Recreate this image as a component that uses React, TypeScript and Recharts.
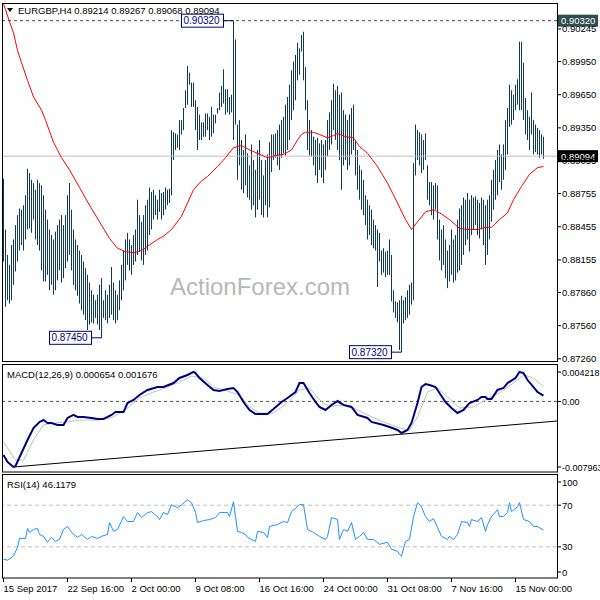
import React from 'react';
import { ComposedChart, Bar, Line, XAxis, YAxis, ReferenceLine, ReferenceDot } from 'recharts';

// EURGBP H4 bars, index 0 = first bar on screen (15 Sep 2017)
const highs = [
  0.8889, 0.8843, 0.8820, 0.8811, 0.8829, 0.8834, 0.8847, 0.8856, 0.8862, 0.8861,
  0.8865, 0.8874, 0.8898, 0.8894, 0.8888, 0.8885, 0.8879, 0.8888, 0.8885, 0.8883,
  0.8874, 0.8861, 0.8852, 0.8843, 0.8838, 0.8834, 0.8841, 0.8847, 0.8852, 0.8856,
  0.8847, 0.8856, 0.8874, 0.8885, 0.8861, 0.8843, 0.8834, 0.8829, 0.8824, 0.8820,
  0.8814, 0.8808, 0.8802, 0.8795, 0.8788, 0.8784, 0.8779, 0.8784, 0.8793, 0.8799,
  0.8779, 0.8788, 0.8784, 0.8793, 0.8809, 0.8795, 0.8788, 0.8784, 0.8797, 0.8811,
  0.8824, 0.8834, 0.8840, 0.8834, 0.8829, 0.8838, 0.8843, 0.8870, 0.8856, 0.8850,
  0.8856, 0.8865, 0.8870, 0.8881, 0.8877, 0.8879, 0.8874, 0.8870, 0.8879, 0.8876,
  0.8877, 0.8881, 0.8879, 0.8880, 0.8933, 0.8931, 0.8930, 0.8929, 0.8942, 0.8942,
  0.8953, 0.8969, 0.8991, 0.8985, 0.8976, 0.8976, 0.8960, 0.8954, 0.8947, 0.8940,
  0.8940, 0.8948, 0.8948, 0.8945, 0.8954, 0.8947, 0.8947, 0.8953, 0.8967, 0.8973,
  0.8988, 0.8970, 0.8970, 0.8963, 0.8965, 0.9032, 0.9015, 0.8938, 0.8942, 0.8924,
  0.8915, 0.8929, 0.8912, 0.8901, 0.8920, 0.8906, 0.8897, 0.8915, 0.8924, 0.8906,
  0.8892, 0.8906, 0.8911, 0.8922, 0.8929, 0.8929, 0.8930, 0.8933, 0.8938, 0.8942,
  0.8945, 0.8956, 0.8963, 0.8974, 0.8987, 0.8995, 0.9001, 0.9012, 0.9007, 0.9019,
  0.9022, 0.8990, 0.8960, 0.8942, 0.8933, 0.8927, 0.8924, 0.8926, 0.8921, 0.8924,
  0.8920, 0.8924, 0.8942, 0.8949, 0.8960, 0.8975, 0.8969, 0.8973, 0.8965, 0.8967,
  0.8951, 0.8947, 0.8942, 0.8947, 0.8953, 0.8956, 0.8924, 0.8915, 0.8901, 0.8897,
  0.8888, 0.8874, 0.8870, 0.8865, 0.8861, 0.8852, 0.8847, 0.8843, 0.8840, 0.8824,
  0.8826, 0.8823, 0.8824, 0.8834, 0.8820, 0.8788, 0.8778, 0.8777, 0.8779, 0.8783,
  0.8779, 0.8782, 0.8788, 0.8793, 0.8795, 0.8903, 0.8938, 0.8933, 0.8931, 0.8929,
  0.8924, 0.8930, 0.8901, 0.8886, 0.8886, 0.8883, 0.8885, 0.8883, 0.8852, 0.8843,
  0.8847, 0.8834, 0.8824, 0.8829, 0.8843, 0.8834, 0.8838, 0.8852, 0.8862, 0.8865,
  0.8872, 0.8870, 0.8876, 0.8870, 0.8874, 0.8872, 0.8873, 0.8870, 0.8867, 0.8872,
  0.8870, 0.8865, 0.8870, 0.8874, 0.8888, 0.8897, 0.8906, 0.8915, 0.8920, 0.8911,
  0.8920, 0.8942, 0.8953, 0.8974, 0.8969, 0.8965, 0.8974, 0.8979, 0.9013, 0.9013,
  0.8994, 0.8962, 0.8951, 0.8945, 0.8967, 0.8942, 0.8938, 0.8935, 0.8933, 0.8929, 0.8927,
];
const lows = [
  0.8814, 0.8773, 0.8779, 0.8776, 0.8779, 0.8793, 0.8805, 0.8814, 0.8824, 0.8829,
  0.8824, 0.8834, 0.8843, 0.8844, 0.8840, 0.8852, 0.8834, 0.8829, 0.8824, 0.8806,
  0.8796, 0.8796, 0.8802, 0.8788, 0.8793, 0.8784, 0.8788, 0.8797, 0.8806, 0.8795,
  0.8799, 0.8808, 0.8814, 0.8820, 0.8806, 0.8793, 0.8788, 0.8783, 0.8776, 0.8770,
  0.8766, 0.8761, 0.8752, 0.8757, 0.8759, 0.8758, 0.8763, 0.8757, 0.8752, 0.8745,
  0.8763, 0.8761, 0.8758, 0.8763, 0.8766, 0.8761, 0.8758, 0.8761, 0.8770, 0.8779,
  0.8788, 0.8797, 0.8811, 0.8806, 0.8802, 0.8811, 0.8814, 0.8820, 0.8823, 0.8815,
  0.8811, 0.8820, 0.8824, 0.8838, 0.8843, 0.8852, 0.8856, 0.8852, 0.8859, 0.8852,
  0.8856, 0.8861, 0.8865, 0.8867, 0.8874, 0.8906, 0.8915, 0.8917, 0.8915, 0.8929,
  0.8933, 0.8953, 0.8956, 0.8974, 0.8954, 0.8954, 0.8933, 0.8915, 0.8924, 0.8924,
  0.8927, 0.8927, 0.8933, 0.8924, 0.8927, 0.8930, 0.8939, 0.8948, 0.8951, 0.8954,
  0.8957, 0.8947, 0.8949, 0.8947, 0.8949, 0.8924, 0.8938, 0.8888, 0.8901, 0.8879,
  0.8876, 0.8883, 0.8872, 0.8870, 0.8861, 0.8865, 0.8854, 0.8861, 0.8870, 0.8856,
  0.8854, 0.8865, 0.8854, 0.8863, 0.8895, 0.8906, 0.8908, 0.8901, 0.8897, 0.8908,
  0.8912, 0.8910, 0.8915, 0.8924, 0.8942, 0.8951, 0.8960, 0.8978, 0.8983, 0.9004,
  0.8978, 0.8951, 0.8915, 0.8910, 0.8909, 0.8901, 0.8892, 0.8885, 0.8897, 0.8890,
  0.8885, 0.8897, 0.8909, 0.8915, 0.8920, 0.8933, 0.8924, 0.8915, 0.8906, 0.8879,
  0.8901, 0.8906, 0.8897, 0.8901, 0.8911, 0.8915, 0.8892, 0.8879, 0.8870, 0.8861,
  0.8856, 0.8847, 0.8834, 0.8838, 0.8829, 0.8826, 0.8824, 0.8791, 0.8814, 0.8802,
  0.8804, 0.8800, 0.8802, 0.8802, 0.8778, 0.8768, 0.8763, 0.8759, 0.8734, 0.8732,
  0.8758, 0.8761, 0.8763, 0.8766, 0.8775, 0.8779, 0.8892, 0.8906, 0.8901, 0.8894,
  0.8897, 0.8906, 0.8870, 0.8865, 0.8856, 0.8852, 0.8861, 0.8834, 0.8815, 0.8806,
  0.8811, 0.8799, 0.8790, 0.8796, 0.8802, 0.8795, 0.8797, 0.8804, 0.8806, 0.8811,
  0.8820, 0.8829, 0.8834, 0.8823, 0.8838, 0.8843, 0.8847, 0.8838, 0.8835, 0.8843,
  0.8829, 0.8811, 0.8820, 0.8834, 0.8850, 0.8861, 0.8870, 0.8874, 0.8886, 0.8879,
  0.8888, 0.8897, 0.8911, 0.8936, 0.8938, 0.8942, 0.8951, 0.8956, 0.8951, 0.8951,
  0.8942, 0.8929, 0.8924, 0.8915, 0.8929, 0.8911, 0.8913, 0.8911, 0.8908, 0.8911, 0.8907,
];

// moving average (red), sampled along the curve
const maIdx = [0, 1, 3, 5, 7, 9, 12, 15, 19, 21, 25, 29, 33, 38, 43, 48, 53, 57, 61, 65, 69, 73, 77, 80, 84, 89, 95, 99, 102, 107, 111, 115, 119, 123, 127, 132, 136, 140, 144, 147, 149, 151, 155, 158, 162, 165, 167, 171, 175, 178, 182, 187, 192, 197, 201, 204, 207, 211, 215, 219, 223, 228, 232, 237, 241, 244, 248, 252, 255, 259, 263, 267, 270];
const maVal = [0.9047, 0.9042, 0.9031, 0.9021, 0.9005, 0.8994, 0.8978, 0.8963, 0.8951, 0.8942, 0.8922, 0.8908, 0.8897, 0.8881, 0.8865, 0.8850, 0.8835, 0.8826, 0.8823, 0.8822, 0.8824, 0.8829, 0.8834, 0.8837, 0.8843, 0.8855, 0.8879, 0.8887, 0.8891, 0.8900, 0.8908, 0.8917, 0.8919, 0.8915, 0.8912, 0.8908, 0.8910, 0.8911, 0.8915, 0.8924, 0.8929, 0.8931, 0.8931, 0.8929, 0.8926, 0.8928, 0.8930, 0.8927, 0.8926, 0.8918, 0.8912, 0.8900, 0.8885, 0.8867, 0.8852, 0.8843, 0.8850, 0.8859, 0.8861, 0.8857, 0.8852, 0.8844, 0.8843, 0.8843, 0.8845, 0.8845, 0.8852, 0.8858, 0.8870, 0.8882, 0.8893, 0.8899, 0.8900];

// MACD(12,26,9)
const macdIdx = [0, 2, 5, 6, 9, 12, 15, 18, 20, 22, 24, 27, 30, 32, 35, 37, 40, 44, 47, 50, 54, 56, 60, 62, 65, 68, 72, 77, 80, 85, 88, 92, 95, 96, 98, 102, 105, 108, 112, 115, 117, 120, 123, 126, 130, 132, 135, 139, 142, 146, 148, 150, 153, 156, 158, 161, 164, 167, 170, 174, 177, 182, 184, 190, 193, 197, 199, 202, 204, 207, 209, 211, 213, 216, 218, 221, 224, 227, 230, 233, 237, 239, 241, 242, 244, 247, 250, 252, 256, 258, 260, 262, 265, 267, 270];
const macdVal = [-0.00605, -0.00683, -0.00740, -0.00729, -0.00582, -0.00435, -0.00300, -0.00232, -0.00210, -0.00243, -0.00243, -0.00266, -0.00266, -0.00187, -0.00153, -0.00176, -0.00176, -0.00187, -0.00198, -0.00198, -0.00153, -0.00120, -0.00120, -0.00018, 0.00016, 0.00072, 0.00129, 0.00162, 0.00162, 0.00207, 0.00264, 0.00298, 0.00332, 0.00320, 0.00264, 0.00185, 0.00129, 0.00117, 0.00140, 0.00151, 0.00106, -0.00007, -0.00097, -0.00142, -0.00142, -0.00142, -0.00086, -0.00007, 0.00038, 0.00106, 0.00207, 0.00207, 0.00095, -0.00007, -0.00063, -0.00097, -0.00040, 0.00004, -0.00040, -0.00063, -0.00153, -0.00187, -0.00232, -0.00266, -0.00289, -0.00322, -0.00356, -0.00322, -0.00243, -0.00018, 0.00162, 0.00196, 0.00185, 0.00162, 0.00095, -0.00007, -0.00074, -0.00131, -0.00097, -0.00018, 0.00016, 0.00050, 0.00050, 0.00027, 0.00027, 0.00129, 0.00151, 0.00207, 0.00264, 0.00332, 0.00320, 0.00241, 0.00162, 0.00106, 0.00065];
const sigIdx = [0, 6, 10, 15, 20, 26, 32, 38, 48, 55, 62, 68, 75, 82, 88, 94, 100, 105, 112, 118, 123, 128, 135, 142, 148, 153, 158, 163, 168, 175, 182, 190, 198, 203, 207, 212, 217, 222, 228, 235, 242, 248, 255, 260, 265, 270];
const sigVal = [-0.00458, -0.00661, -0.00661, -0.00435, -0.00266, -0.00243, -0.00232, -0.00210, -0.00210, -0.00176, -0.00074, 0.00038, 0.00106, 0.00162, 0.00219, 0.00286, 0.00264, 0.00162, 0.00117, 0.00072, -0.00063, -0.00131, -0.00131, -0.00018, 0.00129, 0.00151, 0.00016, -0.00063, -0.00040, -0.00074, -0.00153, -0.00232, -0.00300, -0.00322, -0.00176, 0.00106, 0.00151, 0.00050, -0.00074, -0.00063, 0.00027, 0.00095, 0.00207, 0.00298, 0.00264, 0.00168];
const trendIdx = [5, 277];
const trendVal = [-0.0074, -0.00221];

// RSI(14)
const rsiIdx = [0, 2, 5, 7, 8, 11, 12, 13, 15, 17, 18, 20, 22, 24, 26, 28, 30, 32, 34, 37, 39, 42, 44, 47, 49, 52, 53, 55, 57, 60, 62, 65, 67, 69, 72, 74, 77, 78, 80, 82, 84, 87, 89, 92, 94, 96, 97, 100, 103, 106, 108, 112, 113, 115, 116, 117, 119, 121, 122, 126, 127, 130, 132, 133, 137, 140, 142, 144, 147, 148, 150, 152, 155, 158, 161, 162, 164, 167, 168, 170, 172, 174, 176, 178, 180, 182, 185, 188, 192, 194, 197, 198, 199, 201, 203, 205, 207, 209, 211, 213, 215, 217, 219, 222, 223, 225, 227, 229, 232, 233, 234, 237, 239, 241, 242, 244, 247, 248, 250, 252, 253, 254, 257, 258, 260, 263, 265, 267, 270];
const rsiVal = [18.1, 17.1, 21.0, 29.5, 38.1, 38.1, 47.6, 43.8, 46.7, 47.6, 41.9, 40.0, 34.3, 39.0, 35.2, 37.1, 46.7, 49.5, 43.8, 39.0, 41.9, 37.1, 40.0, 38.1, 40.0, 41.9, 53.3, 44.8, 46.7, 59.0, 54.3, 54.3, 62.9, 58.1, 62.9, 63.8, 59.0, 56.2, 62.9, 61.0, 70.5, 67.6, 70.5, 75.2, 72.4, 62.9, 53.3, 55.2, 56.2, 58.1, 62.9, 62.9, 59.0, 73.3, 59.0, 44.8, 43.8, 41.9, 39.0, 35.2, 44.8, 43.8, 39.0, 49.5, 51.4, 54.3, 53.3, 63.8, 68.6, 70.5, 70.5, 46.7, 43.8, 40.0, 37.1, 40.0, 58.1, 56.2, 37.1, 46.7, 44.8, 53.3, 37.1, 40.0, 43.8, 37.1, 37.1, 32.4, 34.3, 27.6, 25.7, 22.9, 21.0, 35.2, 37.1, 59.0, 72.4, 68.6, 59.0, 54.3, 57.1, 48.6, 40.0, 37.1, 40.0, 37.1, 41.9, 54.3, 53.3, 49.5, 56.2, 54.3, 58.1, 44.8, 51.4, 59.0, 65.7, 59.0, 59.0, 62.9, 72.4, 63.8, 68.6, 72.4, 56.2, 54.3, 49.5, 49.5, 46.1];

const priceTicks = [0.90245, 0.8995, 0.8965, 0.8935, 0.89055, 0.88755, 0.88455, 0.88155, 0.8786, 0.8756, 0.8726];
const macdTicks = [0.004218, 0, -0.007963];
const rsiTicks = [100, 70, 30, 0];
const dateTicks = [0, 32, 64, 96, 128, 160, 192, 224, 256];
const dateLabels = ['15 Sep 2017', '22 Sep 16:00', '2 Oct 00:00', '9 Oct 08:00', '16 Oct 16:00', '24 Oct 00:00', '31 Oct 08:00', '7 Nov 16:00', '15 Nov 00:00'];

const bars = highs.map((h, i) => ({ i, r: [lows[i], h] }));
const ma = maIdx.map((i, k) => ({ i, v: maVal[k] }));
const macd = macdIdx.map((i, k) => ({ i, v: macdVal[k] }));
const signal = sigIdx.map((i, k) => ({ i, v: sigVal[k] }));
const trend = trendIdx.map((i, k) => ({ i, v: trendVal[k] }));
const rsi = rsiIdx.map((i, k) => ({ i, v: rsiVal[k] }));

const X_DOMAIN = [-0.75, 276.75];
const FONT = '"Liberation Sans", Arial, sans-serif';
const FS = 9.5;

// right axis label, with optional nudge for the window edges (like MT4 does)
function RightTick(props: any) {
  const { x, y, payload, fmt, shifts, size } = props;
  const v = payload.value;
  const dy = shifts && shifts[String(v)] !== undefined ? shifts[String(v)] : 0;
  return (
    <g>
      <line x1={x} x2={x + 4} y1={y + dy} y2={y + dy} stroke="#000" />
      <text x={x + 5} y={y + dy + 3.5} fontSize={size || FS} fill="#000" fontFamily={FONT}>{fmt(v)}</text>
    </g>
  );
}

function DateTick(props: any) {
  const { x, y, payload } = props;
  const k = dateTicks.indexOf(payload.value);
  return (
    <g>
      <line x1={x} x2={x} y1={y} y2={y + 4} stroke="#000" />
      <text x={x} y={y + 13.5} fontSize={FS} fill="#000" fontFamily={FONT}>{dateLabels[k]}</text>
    </g>
  );
}

// one H4 bar = a crisp 1px vertical line from low to high
function HLBar(p: any) {
  const cx = Math.floor(p.x + p.width / 2);
  const top = Math.min(p.y, p.y + p.height);
  return <rect x={cx} y={top} width={1} height={Math.max(Math.abs(p.height), 1)} fill="#0e3a56" />;
}

// tag on the price axis
const axisTag = (fill: string, text: string) => (p: any) => (
  <g>
    <rect x={p.cx + 1} y={p.cy - 6} width={40} height={12} fill={fill} />
    <text x={p.cx + 4} y={p.cy + 3.5} fontSize={FS} fill="#fff" fontFamily={FONT}>{text}</text>
  </g>
);

// high / low note box left of the bar
const priceNote = (text: string) => (p: any) => (
  <g>
    <line x1={p.cx - 10} x2={p.cx} y1={p.cy} y2={p.cy} stroke="#000080" />
    <rect x={p.cx - 52} y={p.cy - 6.5} width={42} height={13} fill="#fff" stroke="#000080" />
    <text x={p.cx - 50} y={p.cy + 3.5} fontSize={10} fill="#000080" fontFamily={FONT}>{text}</text>
  </g>
);

export default function App() {
  return (
    <div style={{ position: 'absolute', left: 0, top: 0, width: 600, height: 600, background: '#fff', fontFamily: FONT }}>
      {/* price window */}
      <div style={{ position: 'absolute', left: 0, top: 0 }}>
        <ComposedChart width={600} height={363} data={bars} margin={{ top: 3, right: 0, bottom: 1, left: 2 }}>
          <XAxis type="number" dataKey="i" domain={X_DOMAIN} hide allowDataOverflow />
          <YAxis
            orientation="right"
            type="number"
            width={43}
            domain={[0.87231, 0.9048]}
            ticks={priceTicks}
            interval={0}
            allowDataOverflow
            axisLine={false}
            tickLine={false}
            tickSize={0}
            tickMargin={0}
            tick={(p: any) => <RightTick {...p} fmt={(v: number) => v.toFixed(5)} />}
          />
          <ReferenceLine y={0.9032} stroke="#3a4a4a" strokeDasharray="3 3" />
          <ReferenceLine y={0.89094} stroke="#c0c0c0" />
          <Bar dataKey="r" barSize={1} fill="#0e3a56" shape={HLBar} isAnimationActive={false} />
          <Line data={ma} dataKey="v" type="linear" stroke="#ff0000" strokeWidth={1} dot={false} isAnimationActive={false} />
          <ReferenceDot x={115} y={0.9032} shape={priceNote('0.90320')} />
          <ReferenceDot x={49} y={0.8745} shape={priceNote('0.87450')} />
          <ReferenceDot x={199} y={0.8732} shape={priceNote('0.87320')} />
          <ReferenceDot x={276.75} y={0.9032} shape={axisTag('#2f4f4f', '0.90320')} />
          <ReferenceDot x={276.75} y={0.89094} shape={axisTag('#000000', '0.89094')} />
        </ComposedChart>
      </div>

      {/* MACD window */}
      <div style={{ position: 'absolute', left: 0, top: 364 }}>
        <ComposedChart width={600} height={108} data={macd} margin={{ top: 0, right: 0, bottom: 0, left: 2 }}>
          <XAxis type="number" dataKey="i" domain={X_DOMAIN} hide allowDataOverflow />
          <YAxis
            orientation="right"
            type="number"
            width={43}
            domain={[-0.007963, 0.004218]}
            ticks={macdTicks}
            interval={0}
            allowDataOverflow
            axisLine={false}
            tickLine={false}
            tickSize={0}
            tickMargin={0}
            tick={(p: any) => (
              <RightTick {...p} size={9} shifts={{ '0.004218': 8, '-0.007963': -5 }} fmt={(v: number) => (v === 0 ? '0.00' : v.toFixed(6))} />
            )}
          />
          <ReferenceLine y={0} stroke="#505050" strokeDasharray="3 3" />
          <Line data={trend} dataKey="v" type="linear" stroke="#000" strokeWidth={1} dot={false} isAnimationActive={false} />
          <Line data={signal} dataKey="v" type="linear" stroke="#c0c0c0" strokeWidth={1} dot={false} isAnimationActive={false} />
          <Line dataKey="v" type="linear" stroke="#000080" strokeWidth={2} dot={false} isAnimationActive={false} />
        </ComposedChart>
      </div>

      {/* RSI window */}
      <div style={{ position: 'absolute', left: 0, top: 474 }}>
        <ComposedChart width={600} height={125} data={rsi} margin={{ top: 0, right: 0, bottom: 0, left: 2 }}>
          <XAxis
            type="number"
            dataKey="i"
            domain={X_DOMAIN}
            allowDataOverflow
            ticks={dateTicks}
            interval={0}
            height={21}
            axisLine={false}
            tickLine={false}
            tickSize={0}
            tickMargin={0}
            tick={(p: any) => <DateTick {...p} />}
          />
          <YAxis
            orientation="right"
            type="number"
            width={43}
            domain={[0, 100]}
            ticks={rsiTicks}
            interval={0}
            allowDataOverflow
            axisLine={false}
            tickLine={false}
            tickSize={0}
            tickMargin={0}
            tick={(p: any) => <RightTick {...p} shifts={{ '100': 8, '0': -6 }} fmt={(v: number) => String(v)} />}
          />
          <ReferenceLine y={70} stroke="#c0c0c0" strokeDasharray="4 3" />
          <ReferenceLine y={30} stroke="#c0c0c0" strokeDasharray="4 3" />
          <Line dataKey="v" type="linear" stroke="#1e90ff" strokeWidth={1} dot={false} isAnimationActive={false} />
        </ComposedChart>
      </div>

      {/* window frames, captions and watermark */}
      <svg width={600} height={600} style={{ position: 'absolute', left: 0, top: 0, pointerEvents: 'none' }}>
        <rect x={2.5} y={3.5} width={555} height={358} fill="none" stroke="#000" />
        <rect x={2.5} y={364.5} width={555} height={107.5} fill="none" stroke="#000" />
        <rect x={2.5} y={474.5} width={555} height={103.5} fill="none" stroke="#000" />
        <polygon points="7,8 13,8 10,12" fill="#000" />
        <text x={18} y={13.5} fontSize={FS} fill="#000" fontFamily={FONT}>EURGBP,H4  0.89214 0.89267 0.89068 0.89094</text>
        <text x={7} y={377.5} fontSize={FS} fill="#000" fontFamily={FONT}>MACD(12,26,9) 0.000654 0.001676</text>
        <text x={7} y={487.5} fontSize={FS} fill="#000" fontFamily={FONT}>RSI(14) 46.1179</text>
        <text x={170} y={295} fontSize={24} fill="#b8b8b8" fontFamily={FONT}>ActionForex.com</text>
      </svg>
    </div>
  );
}
